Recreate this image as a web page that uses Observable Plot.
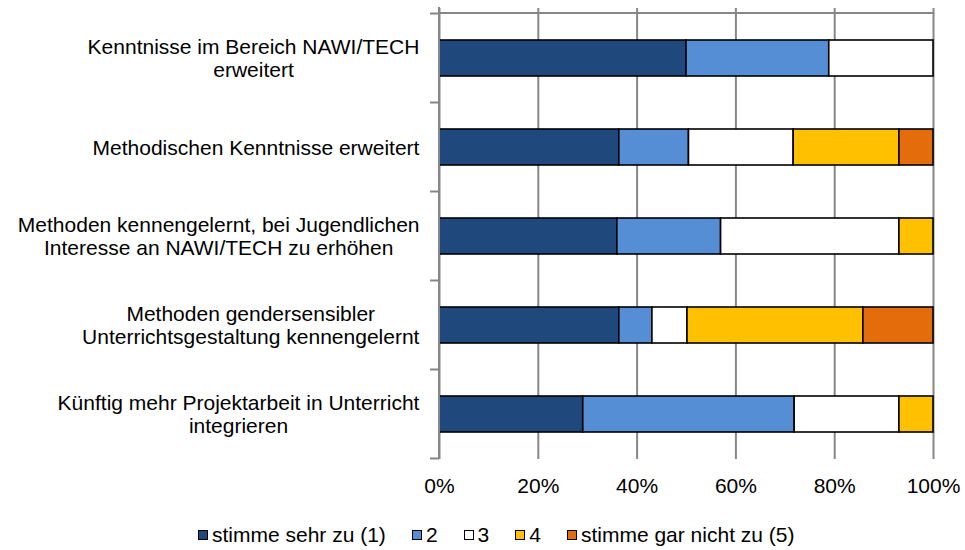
<!DOCTYPE html>
<html>
<head>
<meta charset="utf-8">
<script src="https://cdn.jsdelivr.net/npm/d3@7"></script>
<script src="https://cdn.jsdelivr.net/npm/@observablehq/plot@0.6"></script>
<style>
  body { margin: 0; background: #fff; font-family: "Liberation Sans", Arial, sans-serif; }
  #chart { width: 965px; }
  .legend { display: flex; align-items: center; padding-left: 198px; padding-top: 24px; font-size: 21px; line-height: 22px; color: #000; }
  .legend .item { display: flex; align-items: center; margin-right: 26px; }
  .legend .sw { width: 8px; height: 8px; border: 1px solid #000; margin-right: 4px; }
</style>
</head>
<body>
<div id="chart"></div>
<script>
const categories = [
  "Kenntnisse im Bereich NAWI/TECH erweitert",
  "Methodischen Kenntnisse erweitert",
  "Methoden kennengelernt, bei Jugendlichen Interesse an NAWI/TECH zu erhöhen",
  "Methoden gendersensibler Unterrichtsgestaltung kennengelernt",
  "Künftig mehr Projektarbeit in Unterricht integrieren"
];
const categoryLabels = [
  "Kenntnisse im Bereich NAWI/TECH\nerweitert",
  "Methodischen Kenntnisse erweitert",
  "Methoden kennengelernt, bei Jugendlichen\nInteresse an NAWI/TECH zu erhöhen",
  "Methoden gendersensibler\nUnterrichtsgestaltung kennengelernt",
  "Künftig mehr Projektarbeit in Unterricht\nintegrieren"
];
const seriesNames = ["stimme sehr zu (1)", "2", "3", "4", "stimme gar nicht zu (5)"];
const seriesColors = ["#1F497D", "#558ED5", "#FFFFFF", "#FFC000", "#E46C0A"];
const s1 = [50.0, 36.4, 36.0, 36.4, 29.1];
const s2 = [28.9, 14.1, 21.0, 6.7, 42.8];
const s3 = [21.1, 21.2, 36.1, 7.1, 21.2];
const s4 = [0, 21.4, 6.9, 35.6, 6.9];
const s5 = [0, 6.9, 0, 14.2, 0];
const xTicks = [0, 20, 40, 60, 80, 100];

const series = [s1, s2, s3, s4, s5];
const data = [];
series.forEach((vals, si) => {
  vals.forEach((v, ci) => {
    if (v > 0) data.push({category: categories[ci], level: seriesNames[si], value: v});
  });
});
const labelOf = new Map(categories.map((c, i) => [c, categoryLabels[i]]));

const gray = "#878787";

// custom axis lines: top line, left line, band separator ticks
function axisFrame(index, scales, values, dims) {
  const y = scales.y;
  const step = typeof y.step === "function" ? y.step() : y.step;
  const bw = typeof y.bandwidth === "function" ? y.bandwidth() : y.bandwidth;
  const x0 = dims.marginLeft, x1 = dims.width - dims.marginRight;
  const top = dims.marginTop, bottom = dims.height - dims.marginBottom;
  const g = d3.create("svg:g").attr("stroke", gray).attr("stroke-width", 2).attr("fill", "none");
  g.append("line").attr("x1", x0).attr("x2", x1).attr("y1", top).attr("y2", top);
  g.append("line").attr("x1", x0).attr("x2", x0).attr("y1", top - 6).attr("y2", bottom);
  const bounds = categories.map(c => y(c) - (step - bw) / 2);
  bounds.push(y(categories[categories.length - 1]) + bw + (step - bw) / 2);
  for (const b of bounds) {
    g.append("line").attr("x1", x0 - 9).attr("x2", x0).attr("y1", b).attr("y2", b);
  }
  return g.node();
}

const plot = Plot.plot({
  width: 965,
  height: 500,
  marginLeft: 439,
  marginRight: 32,
  marginTop: 13,
  marginBottom: 41,
  style: {fontFamily: "'Liberation Sans', Arial, sans-serif", fontSize: "21px", color: "#000", background: "#fff"},
  x: {domain: [0, 100], ticks: xTicks},
  y: {domain: categories, paddingInner: 0.6, paddingOuter: 0.3},
  color: {domain: seriesNames, range: seriesColors},
  marks: [
    Plot.gridX(xTicks, {stroke: gray, strokeOpacity: 1, strokeWidth: 2}),
    Plot.axisX(xTicks, {anchor: "top", tickSize: 6, stroke: gray, strokeWidth: 2, tickFormat: () => "", label: null}),
    Plot.axisX(xTicks, {anchor: "bottom", tickSize: 0, tickPadding: 19, tickFormat: d => d + "%", label: null, fill: "#000", fontSize: 21}),
    Plot.axisY({tickSize: 0, tickPadding: 20, tickFormat: d => labelOf.get(d), label: null, fill: "#000", fontSize: 21, lineHeight: 1.1}),
    Plot.barX(data, {x: "value", y: "category", fill: "level", stroke: "#000", strokeWidth: 1.6}),
    axisFrame
  ]
});
document.getElementById("chart").appendChild(plot);

// center each line of the category labels within its right-aligned block
plot.querySelectorAll('g[aria-label="y-axis tick label"] text').forEach(t => {
  const w = t.getBBox().width;
  t.setAttribute("text-anchor", "middle");
  t.setAttribute("transform", (t.getAttribute("transform") || "") + ` translate(${-w / 2},0)`);
});

// legend
const legend = d3.select("body").append("div").attr("class", "legend");
seriesNames.forEach((n, i) => {
  const it = legend.append("div").attr("class", "item");
  it.append("div").attr("class", "sw").style("background", seriesColors[i]);
  it.append("span").text(n);
});
</script>
</body>
</html>
